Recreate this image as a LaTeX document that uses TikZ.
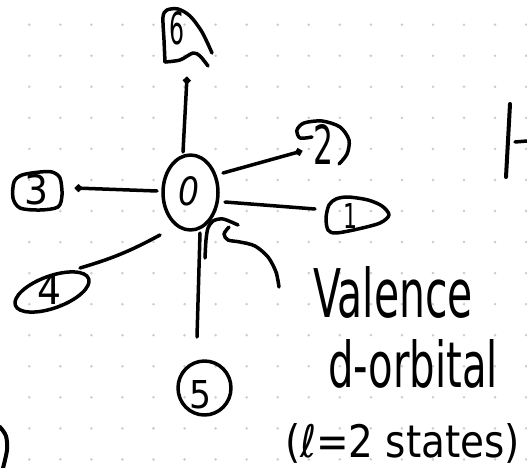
\documentclass[tikz,border=0pt]{standalone}
\usepackage{fontspec}
\usepackage{graphicx}
\setmainfont{DejaVu Sans}
\usetikzlibrary{calc,arrows.meta}
% stretch a piece of text to a given width and height (in pt)
\newcommand{\handtxt}[3]{\resizebox{#1pt}{#2pt}{#3}}

\begin{document}
\begin{tikzpicture}[x=1pt,y=-1pt,
  ink/.style={line width=3.5pt, line cap=round, line join=round, black},
  dotend/.style={-{Circle[length=7pt]}},
  griddot/.style={fill=black!20},
  lbl/.style={inner sep=0pt, outer sep=0pt},
]
\useasboundingbox (0,0) rectangle (527,468);
\fill[white] (0,0) rectangle (527,468);

% dotted notebook paper
\foreach \i in {0,...,16}
  \foreach \j in {0,...,14}
    \fill[griddot] (29.3+31.05*\i, 24.7+31.05*\j) circle[radius=1.4];

% site labels
\node[lbl] (c)  at (189,191)   {\handtxt{21}{29}{\itshape 0}};
\node[lbl] (n6) at (177,28.5)  {\handtxt{15}{33}{6}};
\node[lbl] (n2) at (323,144)   {\handtxt{20}{40}{2}};
\node[lbl] (n1) at (350,216)   {\handtxt{14}{25}{1}};
\node[lbl] (n3) at (37,190)    {\handtxt{24}{30}{3}};
\node[lbl] (n4) at (50,289)    {\handtxt{24}{30}{4}};
\node[lbl] (n5) at (200,395)   {\handtxt{22}{28}{5}};

% outlines around the labels
\draw[ink] (190.5,192.5) ellipse[x radius=27.5, y radius=37.5];
\draw[ink] plot[smooth] coordinates {(165,62) (164,40) (163,17) (167,10) (178,9) (190,16) (202,32) (212,53)};
\draw[ink] plot[smooth] coordinates {(165,62) (180,60) (193,53) (200,56) (208,66)};
\draw[ink] plot[smooth] coordinates {(312,137) (300,138) (297,130) (304,123) (322,121) (340,127) (349,140) (347,154) (339,164)};
\draw[ink] plot[smooth cycle] coordinates {(329,205) (326,218) (328,230) (336,233) (358,229) (380,223) (389,215) (382,206) (368,200) (348,197) (336,199)};
\draw[ink] plot[smooth cycle] coordinates {(14,182) (22,175) (40,172) (52,172) (60,178) (62,195) (58,207) (40,210) (20,208) (13,198)};
\draw[ink, rotate around={20:(52,292)}] (52,292) ellipse[x radius=39, y radius=16];
\draw[ink] (204.5,388) ellipse[x radius=26.5, y radius=27];

% bonds from the central site
\draw[ink, dotend] ($(c)+(-6,-39)$) -- ($(n6)+(10,48.5)$);
\draw[ink, dotend] ($(c)+(34,-18)$) -- ($(n2)+(-21,7)$);
\draw[ink] ($(c)+(36,11)$) -- ($(n1)+(-35,-7)$);
\draw[ink, dotend] ($(c)+(-32,0)$) -- ($(n3)+(38,-2)$);
\draw[ink] ($(c)+(-29,44)$) to[bend left=6] ($(n4)+(30,-21)$);
\draw[ink] ($(c)+(11,42)$) -- ($(n5)+(-3,-58)$);

% pointer from the note to the central site
\draw[ink] plot[smooth] coordinates {(205,258) (206,240) (208,228) (213,221) (223,219) (238,225)};
\draw[ink] plot[smooth] coordinates {(229,227) (224,234) (228,240) (240,242) (255,246) (268,257) (276,272) (279,287)};

% note
\node[lbl, anchor=base west] (t1) at (313,317) {\handtxt{160}{51}{Valence}};
\node[lbl, anchor=base west] (t2) at (328,387) {\handtxt{170}{48}{d-orbital}};
\node[lbl, anchor=base west] (t3) at (285,457) {\handtxt{235}{34}{(ℓ=2 states)}};

% strokes running off the page edges
\draw[ink, line width=4pt] (510,104) -- (506,177);
\draw[ink] (515,142) -- (527,141);
\draw[ink, line width=4pt] plot[smooth] coordinates {(0,427) (6,436) (7,450) (3,468)};
\end{tikzpicture}
\end{document}
